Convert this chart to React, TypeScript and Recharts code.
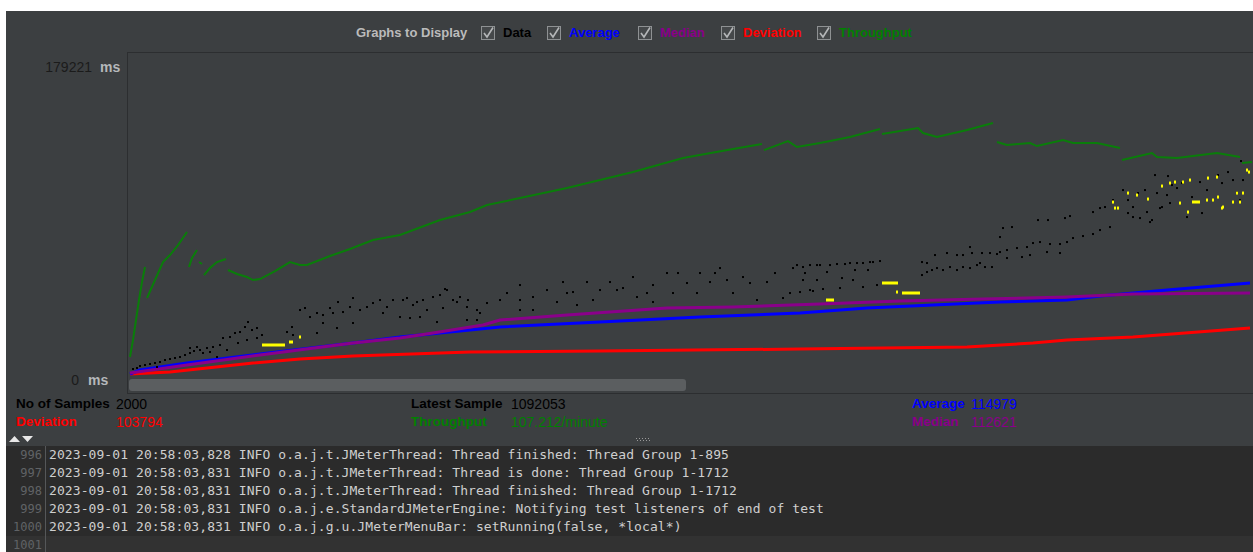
import { ComposedChart, Line, Scatter, XAxis, YAxis } from "recharts";

// sample index (visible window) / response time in ms
const averageSeries = [
  [3, 1106], [13, 3318], [60, 7189], [133, 12166], [226, 18249], [273, 21567], [343, 25438],
  [373, 27097], [473, 29862], [573, 32627], [673, 34839], [740, 37604], [806, 39263],
  [873, 40922], [940, 42028], [973, 44240], [1040, 47558], [1123, 51429],
];

const medianSeries = [
  [3, 1659], [60, 6083], [133, 11613], [226, 18249], [273, 21014], [306, 23779], [356, 28203],
  [373, 30968], [440, 33733], [540, 37604], [606, 38157], [693, 39816], [773, 41475],
  [856, 42581], [940, 43687], [1006, 45346], [1123, 45899],
];

const deviationSeries = [
  [3, 1106], [43, 2212], [80, 4424], [126, 7189], [173, 9401], [226, 11060], [343, 13272],
  [473, 13825], [673, 14931], [840, 16037], [906, 18249], [940, 19908], [1006, 21567], [1123, 26544],
];

// null = gap in the throughput trace
const throughputSeries = [
  [3, 10507], [6, 19908], [9, 30968], [12, 42028], [15, 51982], [18, 60277], [19, null],
  [20, 43134], [28, 53088], [36, 63042], [43, 66913], [51, 72443], [60, 79632], [61, null],
  [62, 60277], [65, 65254], [70, 69678], [71, null],
  [72, 63042], [75, 61936], [76, null],
  [77, 55853], [83, 59724], [90, 63042], [99, 64701], [100, null],
  [101, 58618], [110, 56406], [120, 54747], [126, 53088], [133, 53641], [148, 58065], [163, 63042],
  [173, 61383], [180, 61383], [203, 66360], [223, 70231], [246, 75208], [273, 77973], [313, 86268],
  [343, 90692], [360, 94563], [393, 98434], [440, 103964], [473, 108388], [506, 112812],
  [556, 120554], [606, 125531], [635, 128296], [636, null],
  [637, 124978], [661, 129955], [670, 126637], [693, 128849], [723, 132167], [753, 136591], [754, null],
  [755, 133826], [791, 137144], [796, 134379], [810, 132167], [840, 136038], [866, 139909], [867, null],
  [870, 129402], [880, 127743], [903, 128849], [910, 127190], [936, 130508], [946, 128849],
  [970, 128849], [993, 126084], [994, null],
  [995, 119448], [1025, 123319], [1030, 121107], [1050, 120554], [1090, 123319], [1113, 121107], [1114, null],
  [1115, 117789], [1125, 118342],
];

const dataDots = [
  [6, 3870], [10, 4420], [13, 5530], [18, 6080], [23, 6640], [28, 7190], [33, 7740], [38, 8850],
  [43, 9400], [48, 9950], [53, 10510], [58, 11610], [63, 12720], [67, 13830], [73, 14380], [80, 15480],
  [30, 4980], [63, 15480], [70, 16040], [76, 12720], [83, 13270], [86, 16040], [90, 10510], [93, 17140],
  [96, 21010], [100, 14380], [103, 21570], [108, 23780], [111, 18250], [113, 24330], [118, 27100],
  [120, 19910], [121, 29860], [125, 25440], [130, 26540], [130, 21010], [135, 22670],
  [160, 24330], [165, 27100], [166, 22670], [173, 36500], [178, 37600], [183, 32630], [190, 34840],
  [190, 23780], [196, 33730], [196, 29310], [203, 37600], [206, 34840], [210, 26540], [211, 40920],
  [216, 35390], [223, 38160], [226, 43130], [226, 29310], [233, 36500], [240, 38160], [246, 40370],
  [253, 42030], [256, 34840], [260, 38160], [266, 42030], [273, 32630], [276, 42030], [280, 43130],
  [283, 32070], [286, 39260], [290, 40920], [293, 32630], [296, 42030], [300, 36500], [306, 43690],
  [310, 29860], [313, 44790], [316, 37600], [318, 48110], [320, 47560], [326, 42030], [330, 40920],
  [333, 43690], [340, 38160], [340, 30970], [341, 42030],
  [350, 36500], [350, 30970], [353, 34840], [360, 40370], [373, 42030], [380, 45900], [393, 50320],
  [393, 42030], [393, 36500], [406, 43690], [406, 36500], [420, 47560], [430, 40920], [436, 51980],
  [440, 45900], [446, 46450], [450, 39260], [460, 51980], [466, 42030], [473, 47560], [483, 51980],
  [490, 47560], [496, 48660], [506, 54750], [510, 43690], [520, 45900], [526, 50320], [526, 40920],
  [540, 56960], [546, 45900], [551, 56960], [560, 51430], [570, 45900], [573, 56960], [583, 51980],
  [588, 56960], [593, 59720], [600, 53090], [606, 45900], [616, 54750], [623, 51430], [630, 42030],
  [640, 51980], [648, 56960], [656, 43130], [663, 45900], [666, 59720], [670, 61380], [676, 60280],
  [676, 53090], [683, 61380], [683, 47560], [690, 61380], [690, 53090],
  [693, 61380], [700, 57510], [703, 61380], [710, 61940], [713, 48660], [715, 54190], [718, 61940],
  [723, 62490], [726, 53090], [728, 58620], [730, 62490], [736, 62490], [736, 49220], [741, 58620],
  [743, 63040], [746, 63040], [750, 50320], [753, 63600], [696, 48110], [686, 47010], [678, 56960],
  [673, 46450],
  [795, 55850], [795, 63040], [800, 57510], [800, 62490], [805, 58620], [808, 66910], [810, 59720],
  [816, 58620], [820, 68020], [823, 60280], [830, 58620], [830, 66910], [836, 60280], [836, 66910],
  [843, 59720], [843, 71340], [845, 68020], [850, 61380], [853, 62490], [855, 68020], [858, 60280],
  [863, 68020], [865, 60280], [870, 67470], [873, 76870], [876, 81840], [880, 65250], [885, 82400],
  [873, 68570], [880, 69680], [890, 70780], [900, 71340], [906, 73550], [913, 74100], [923, 73000],
  [933, 73000], [940, 74100], [946, 76310], [956, 77420], [966, 78530], [973, 80740], [983, 82400],
  [895, 65810], [903, 66910], [920, 68570], [933, 68020], [911, 86270], [921, 86270], [938, 87370],
  [943, 88480], [966, 90690], [973, 92900], [978, 93460],
  [986, 97330], [996, 102860], [1001, 97330], [1001, 90140], [1006, 93460], [1006, 87930],
  [1011, 101200], [1013, 87370], [1018, 102860], [1020, 90690], [1023, 85160], [1025, 86270],
  [1028, 111150], [1030, 101200], [1033, 92900], [1035, 93460], [1040, 100090], [1041, 110600],
  [1043, 95670], [1045, 105620], [1050, 103960], [1055, 106730], [1060, 87930], [1065, 98990],
  [1073, 107280], [1075, 90140], [1080, 102860], [1086, 97330], [1091, 111150], [1095, 106730],
  [1101, 112810], [1106, 108390], [1110, 101750], [1113, 97330], [1116, 108390], [1114, 118900],
];

const highlightDots = [
  [163, 18800], [165, 18800], [173, 21570], [770, 46450],
  [986, 96220], [988, 92900], [991, 92900], [1001, 101200], [1010, 100090], [1021, 97880],
  [1035, 105070], [1043, 106730], [1048, 107280], [1056, 107280], [1063, 108390], [1053, 95670],
  [1061, 90690], [1080, 97330], [1086, 97330], [1091, 98990], [1096, 93460], [1081, 109490],
  [1090, 110050], [1095, 92900], [1110, 101200], [1106, 96220], [1116, 101200], [1113, 96220],
  [1120, 113920], [1122, 112810],
];

const highlightRuns = [
  [135, 17140], [158, 17140], [159, null],
  [699, 42030], [707, 42030], [708, null],
  [755, 51430], [771, 51430], [772, null],
  [775, 45900], [793, 45900], [794, null],
  [1065, 96220], [1073, 96220],
];

const legendItems = [
  { label: "Data", color: "#000000", box: 481, text: 503 },
  { label: "Average", color: "#0000ff", box: 547, text: 569 },
  { label: "Median", color: "#8a008a", box: 638, text: 660 },
  { label: "Deviation", color: "#ff0000", box: 721, text: 743 },
  { label: "Throughput", color: "#008000", box: 817, text: 839 },
];

const stats = [
  { label: "No of Samples", value: "2000", color: "#000000", lx: 16, vx: 116, y: 404 },
  { label: "Deviation", value: "103794", color: "#ff0000", lx: 16, vx: 116, y: 422 },
  { label: "Latest Sample", value: "1092053", color: "#000000", lx: 411, vx: 511, y: 404 },
  { label: "Throughput", value: "107.212/minute", color: "#008000", lx: 411, vx: 511, y: 422 },
  { label: "Average", value: "114979", color: "#0000ff", lx: 912, vx: 971, y: 404 },
  { label: "Median", value: "112621", color: "#8a008a", lx: 912, vx: 971, y: 422 },
];

const logLines = [
  ["996", "2023-09-01 20:58:03,828 INFO o.a.j.t.JMeterThread: Thread finished: Thread Group 1-895"],
  ["997", "2023-09-01 20:58:03,831 INFO o.a.j.t.JMeterThread: Thread is done: Thread Group 1-1712"],
  ["998", "2023-09-01 20:58:03,831 INFO o.a.j.t.JMeterThread: Thread finished: Thread Group 1-1712"],
  ["999", "2023-09-01 20:58:03,831 INFO o.a.j.e.StandardJMeterEngine: Notifying test listeners of end of test"],
  ["1000", "2023-09-01 20:58:03,831 INFO o.a.j.g.u.JMeterMenuBar: setRunning(false, *local*)"],
  ["1001", ""],
];

const toRows = (pairs) => pairs.map(([s, v]) => ({ s, v }));

const SANS = '"Liberation Sans", Arial, sans-serif';

function YTick(props) {
  const { y, payload } = props;
  const top = payload.value > 0;
  const numEnd = top ? 86 : 73;
  const msStart = top ? 94 : 82;
  const cy = y + (top ? 6 : 4);
  return (
    <g fontFamily={SANS} fontSize={14}>
      <text x={numEnd} y={cy} textAnchor="end" dominantBaseline="central" fill="#1b1b1b">
        {payload.value}
      </text>
      <text x={msStart} y={cy} dominantBaseline="central" fill="#b5b8ba" fontWeight="bold">
        ms
      </text>
    </g>
  );
}

const smallDot = (color, w, h) => (p) => (
  <rect x={p.cx - w / 2} y={p.cy - h / 2} width={w} height={h} fill={color} />
);

function CheckBox({ x }) {
  return (
    <svg style={{ position: "absolute", left: x, top: 26 }} width={15} height={15}>
      <rect x={0.5} y={0.5} width={13} height={13} fill="#45484a" stroke="#8e9193" />
      <path d="M3 7 L6 11 L12 1.5" stroke="#b4b6b8" strokeWidth={1.6} fill="none" />
    </svg>
  );
}

export default function App() {
  return (
    <div
      style={{
        position: "absolute",
        left: 0,
        top: 0,
        width: 1253,
        height: 552,
        background: "#ffffff",
        overflow: "hidden",
        fontFamily: SANS,
      }}
    >
      <div style={{ position: "absolute", left: 6, top: 11, width: 1247, height: 541, background: "#3c3f41" }} />

      {/* graph toggles */}
      <div
        style={{
          position: "absolute", left: 356, top: 25, lineHeight: "16px",
          fontSize: 13, fontWeight: "bold", color: "#bbbbbb",
        }}
      >
        Graphs to Display
      </div>
      {legendItems.map((it) => (
        <div key={it.label}>
          <CheckBox x={it.box} />
          <div
            style={{
              position: "absolute", left: it.text, top: 25, lineHeight: "16px",
              fontSize: 13, fontWeight: "bold", color: it.color,
            }}
          >
            {it.label}
          </div>
        </div>
      ))}

      {/* plot frame */}
      <div
        style={{
          position: "absolute", left: 127, top: 52, width: 1140, height: 340,
          borderTop: "1px solid #2c2e30", borderLeft: "1px solid #2c2e30", borderBottom: "1px solid #2c2e30",
        }}
      />

      <div style={{ position: "absolute", left: 6, top: 52 }}>
        <ComposedChart width={1247} height={341} margin={{ top: 0, right: 0, bottom: 0, left: 0 }}>
          <XAxis type="number" dataKey="s" domain={[0, 1126]} allowDataOverflow hide />
          <YAxis
            type="number"
            dataKey="v"
            domain={[-9404, 179221]}
            ticks={[0, 179221]}
            allowDataOverflow
            width={121}
            axisLine={false}
            tickLine={false}
            tick={YTick}
          />
          <Scatter data={toRows(dataDots)} dataKey="v" shape={smallDot("#000000", 2, 2)} isAnimationActive={false} />
          <Line data={toRows(deviationSeries)} dataKey="v" type="linear" stroke="#ff0000" strokeWidth={3} dot={false} isAnimationActive={false} />
          <Line data={toRows(averageSeries)} dataKey="v" type="linear" stroke="#0000ff" strokeWidth={3} dot={false} isAnimationActive={false} />
          <Line data={toRows(medianSeries)} dataKey="v" type="linear" stroke="#8a008a" strokeWidth={3} dot={false} isAnimationActive={false} />
          <Line data={toRows(throughputSeries)} dataKey="v" type="linear" stroke="#0a7d0a" strokeWidth={2} dot={false} connectNulls={false} isAnimationActive={false} />
          <Line data={toRows(highlightRuns)} dataKey="v" type="linear" stroke="#ffff00" strokeWidth={3} dot={false} connectNulls={false} isAnimationActive={false} />
          <Scatter data={toRows(highlightDots)} dataKey="v" shape={smallDot("#ffff00", 2, 3)} isAnimationActive={false} />
        </ComposedChart>
      </div>

      {/* horizontal scroll thumb */}
      <div
        style={{
          position: "absolute", left: 129, top: 379, width: 557, height: 12,
          background: "#5b5e60", borderRadius: 3,
        }}
      />

      {/* summary figures */}
      {stats.map((st) => (
        <div key={st.label}>
          <div
            style={{
              position: "absolute", left: st.lx, top: st.y - 8, lineHeight: "16px",
              fontSize: 13.5, fontWeight: "bold", color: st.color,
            }}
          >
            {st.label}
          </div>
          <div
            style={{
              position: "absolute", left: st.vx, top: st.y - 8, lineHeight: "16px",
              fontSize: 14, color: st.color,
            }}
          >
            {st.value}
          </div>
        </div>
      ))}

      {/* split pane arrows and grip */}
      <svg style={{ position: "absolute", left: 6, top: 432 }} width={1247} height={14}>
        <polygon points="3,10 14,10 8.5,4" fill="#e8e8e8" />
        <polygon points="16,4 27,4 21.5,10" fill="#e8e8e8" />
        {[0, 1, 2, 3, 4].map((i) => (
          <g key={i}>
            <rect x={630 + i * 3} y={6} width={1} height={1} fill="#9a9a9a" />
            <rect x={631 + i * 3} y={8} width={1} height={1} fill="#9a9a9a" />
          </g>
        ))}
      </svg>

      {/* log panel */}
      <div style={{ position: "absolute", left: 6, top: 446, width: 1247, height: 106, background: "#2b2b2b" }} />
      <div style={{ position: "absolute", left: 6, top: 536, width: 1247, height: 16, background: "#323232" }} />
      <div style={{ position: "absolute", left: 45, top: 446, width: 1, height: 106, background: "#555759" }} />
      {logLines.map(([num, text], i) => (
        <div key={num}>
          <div
            style={{
              position: "absolute", left: 6, width: 36, top: 446 + i * 18, lineHeight: "18px",
              textAlign: "right", fontFamily: '"DejaVu Sans Mono", monospace', fontSize: 12,
              color: "#606366",
            }}
          >
            {num}
          </div>
          <div
            style={{
              position: "absolute", left: 49, top: 446 + i * 18, lineHeight: "18px",
              fontFamily: '"DejaVu Sans Mono", monospace', fontSize: 13, letterSpacing: "0.08px",
              color: "#cfcfcf", whiteSpace: "pre",
            }}
          >
            {text}
          </div>
        </div>
      ))}
    </div>
  );
}
